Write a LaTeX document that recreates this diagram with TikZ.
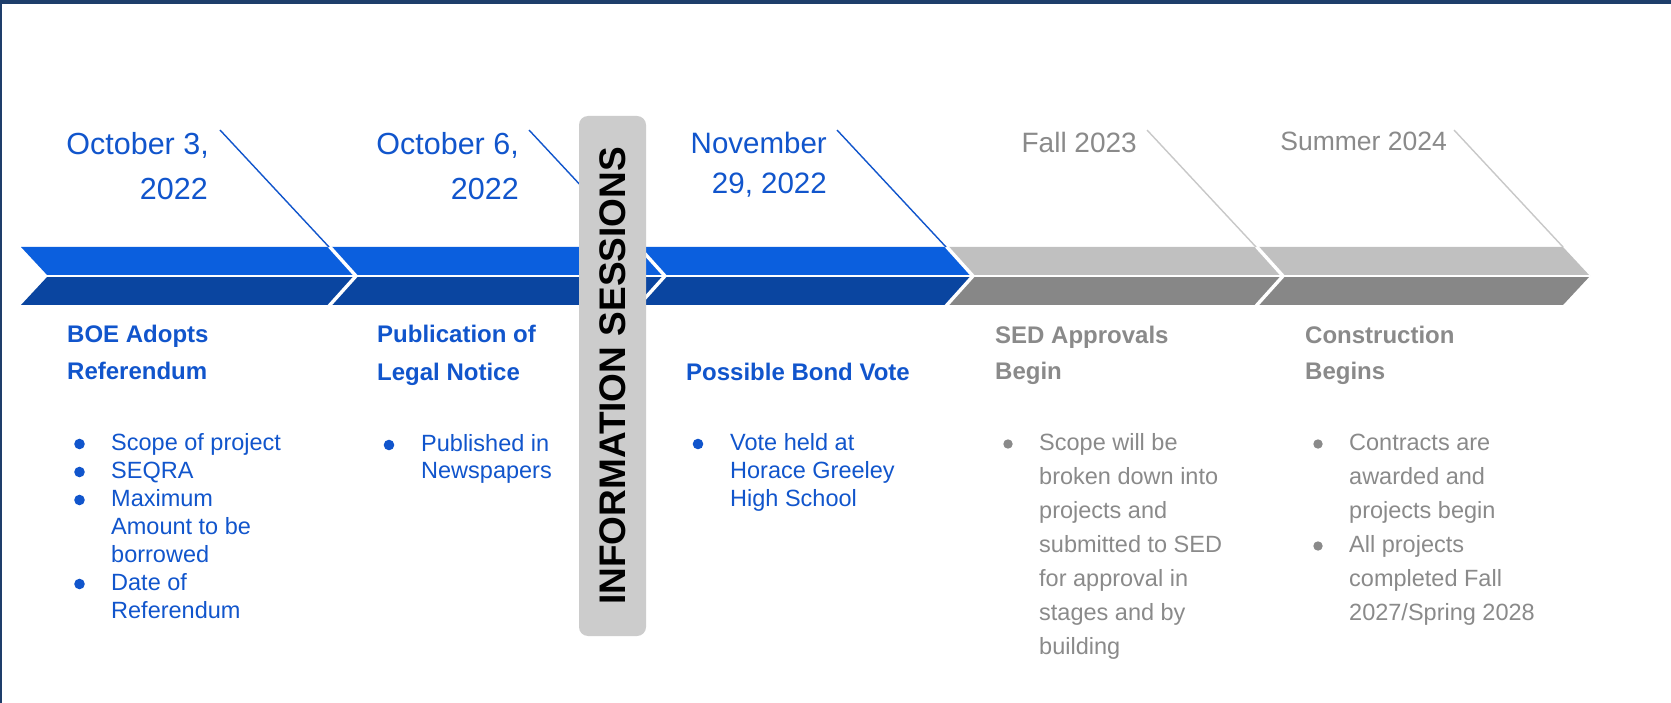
\documentclass[tikz,border=0pt]{standalone}
\usepackage{fontspec}
\setmainfont{Liberation Sans}
\definecolor{frame}{HTML}{1E3E6B}
\definecolor{btop}{HTML}{0B5FDE}
\definecolor{bbot}{HTML}{0A45A0}
\definecolor{gtop}{HTML}{C0C0C0}
\definecolor{gbot}{HTML}{878787}
\definecolor{tblue}{HTML}{1155CC}
\definecolor{tgray}{HTML}{8A8A8A}
\definecolor{lgray}{HTML}{C8C8C8}
\definecolor{boxgray}{HTML}{CCCCCC}
\begin{document}
\begin{tikzpicture}[x=1pt,y=-1pt,
  datel/.style={inner sep=0pt, anchor=base east},
  head/.style={inner sep=0pt, anchor=base west, font=\bfseries\fontsize{24}{28}\selectfont},
  btext/.style={inner sep=0pt, anchor=base west, font=\fontsize{23.5}{28}\selectfont},
  bdot/.style={circle, fill, inner sep=0pt, minimum size=10.6pt},
  gdot/.style={circle, fill, inner sep=0pt, minimum size=9.4pt},
  sep/.style={white, line width=3.4pt},
  tick/.style={line width=1.4pt}]
\useasboundingbox (0,0) rectangle (1671,703);
\fill[white] (0,0) rectangle (1671,703);
\fill[frame] (0,0) rectangle (1671,4);
\fill[frame] (0,0) rectangle (2,703);

% timeline band
\foreach \a/\b/\ct/\cb in {48/356/btop/bbot, 356/665/btop/bbot, 665/973/btop/bbot, 973/1283/gtop/gbot, 1283/1590/gtop/gbot}{
  \fill[\ct] ({\a-27},247) -- ({\b-27},247) -- (\b,276) -- (\a,276) -- cycle;
  \fill[\cb] (\a,276) -- (\b,276) -- ({\b-27},305) -- ({\a-27},305) -- cycle;
}
\draw[white, line width=2.2pt] (21,276) -- (1590,276);
\foreach \t in {356,665,973,1283}
  \draw[sep] ({\t-27},246) -- (\t,276) -- ({\t-27},306);

% pointer lines
\foreach \t in {356,665,973}{
  \coordinate (ta\t) at ({\t-136},130);
  \coordinate (tb\t) at ({\t-27},247);
  \draw[tick, tblue] (ta\t) -- (tb\t);
}
\foreach \t in {1283,1590}{
  \coordinate (ta\t) at ({\t-136},130);
  \coordinate (tb\t) at ({\t-27},247);
  \draw[tick, lgray] (ta\t) -- (tb\t);
}

% dates
\begin{scope}[text=tblue, font=\fontsize{30.5}{36}\selectfont]
\node[datel] (d1a) at (209,155) {October 3,};
\node[datel] (d1b) at (208,200) {2022};
\node[datel] (d2a) at (519,155) {October 6,};
\node[datel] (d2b) at (519,200) {2022};
\end{scope}
\begin{scope}[text=tblue, font=\fontsize{29.5}{36}\selectfont]
\node[datel] (d3a) at (827,154) {November};
\node[datel] (d3b) at (827,194) {29, 2022};
\end{scope}
\node[datel, text=tgray, font=\fontsize{28}{34}\selectfont] (d4) at (1137,153) {Fall 2023};
\node[datel, text=tgray, font=\fontsize{26.5}{32}\selectfont] (d5) at (1447,151) {Summer 2024};

% headings
\node[head, text=tblue] (h1a) at (67,343) {BOE Adopts};
\node[head, text=tblue] (h1b) at (67,379) {Referendum};
\node[head, text=tblue] (h2a) at (377,343) {Publication of};
\node[head, text=tblue] (h2b) at (377,380) {Legal Notice};
\node[head, text=tblue] (h3) at (686,380) {Possible Bond Vote};
\node[head, text=tgray] (h4a) at (995,344) {SED Approvals};
\node[head, text=tgray] (h4b) at (995,379) {Begin};
\node[head, text=tgray] (h5a) at (1305,344) {Construction};
\node[head, text=tgray] (h5b) at (1305,379) {Begins};

% bullets: BOE
\foreach \t [count=\i] in {Scope of project, SEQRA, Maximum, Amount to be, borrowed, Date of, Referendum}
  \node[btext, text=tblue] (b1l\i) at (111,{450+28*(\i-1)}) {\t};
\foreach \y [count=\i] in {444,472,500,584}
  \node[bdot, tblue] (b1d\i) at (79.5,\y) {};
% Publication
\foreach \t [count=\i] in {Published in, Newspapers}
  \node[btext, text=tblue] (b2l\i) at (421,{451+27*(\i-1)}) {\t};
\node[bdot, tblue] (b2d) at (389,445) {};
% Vote
\foreach \t [count=\i] in {Vote held at, Horace Greeley, High School}
  \node[btext, text=tblue] (b3l\i) at (730,{450+28*(\i-1)}) {\t};
\node[bdot, tblue] (b3d) at (698,444) {};
% SED
\foreach \t [count=\i] in {Scope will be, broken down into, projects and, submitted to SED, for approval in, stages and by, building}
  \node[btext, text=tgray] (b4l\i) at (1039,{450+34*(\i-1)}) {\t};
\node[gdot, tgray] (b4d) at (1008,444) {};
% Construction
\foreach \t [count=\i] in {Contracts are, awarded and, projects begin, All projects, completed Fall, 2027/Spring 2028}
  \node[btext, text=tgray] (b5l\i) at (1349,{450+34*(\i-1)}) {\t};
\node[gdot, tgray] (b5d1) at (1318,444) {};
\node[gdot, tgray] (b5d2) at (1318,546) {};

% information sessions
\node[fill=boxgray, rounded corners=9pt, rotate=90, minimum width=520pt, minimum height=67pt, inner sep=0pt,
      font=\bfseries\fontsize{37}{40}\selectfont] (info) at (612.5,376) {INFORMATION SESSIONS};
\end{tikzpicture}
\end{document}
